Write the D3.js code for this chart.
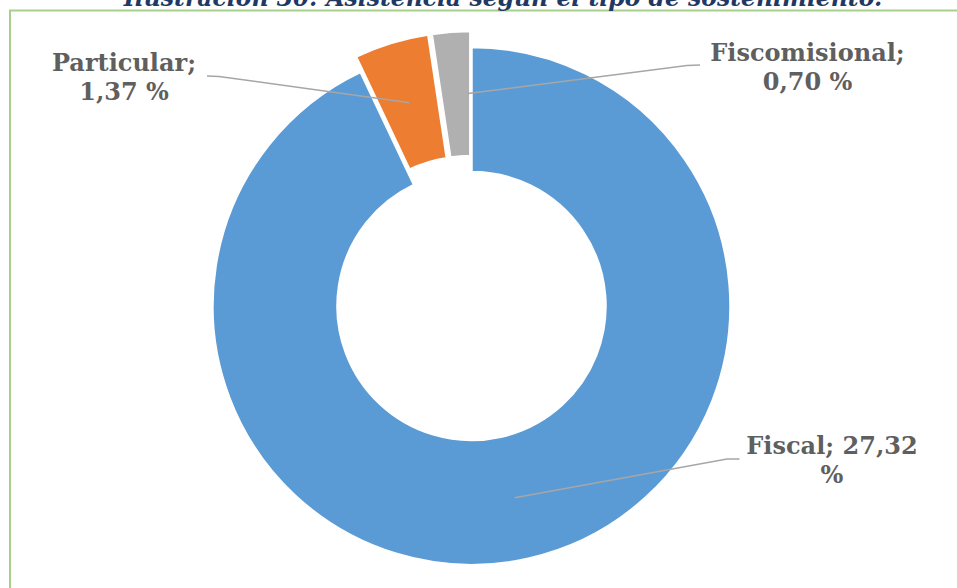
<!DOCTYPE html>
<html>
<head>
<meta charset="utf-8">
<script src="https://cdn.jsdelivr.net/npm/d3@7"></script>
<style>
  html, body { margin: 0; padding: 0; background: #fff; overflow: hidden; }
  svg { display: block; }
</style>
</head>
<body>
<svg id="chart" width="957" height="588"></svg>
<script>
// ---- data ----
const categories = ["Fiscal", "Particular", "Fiscomisional"];
const values = [27.32, 1.37, 0.70];
const valueLabels = ["27,32 %", "1,37 %", "0,70 %"];
const title = "Ilustración 30: Asistencia según el tipo de sostenimiento.";

// ---- layout / style ----
const W = 957, H = 588;
const cx = 471.5, cy = 306;
const outerR = 259, innerR = 134;
const colors = ["#5B9BD5", "#ED7D31", "#B0B0B1"];
const explode = [0, 16, 16];
const labelFont = "'DejaVu Serif', Georgia, serif";

const svg = d3.select("#chart");

// chart frame (green border)
svg.append("rect")
  .attr("x", 10).attr("y", 10.5)
  .attr("width", 1000).attr("height", 700)
  .attr("fill", "none")
  .attr("stroke", "#A8D08D")
  .attr("stroke-width", 2);

// title (clipped at top as in reference)
svg.append("text")
  .attr("x", 503).attr("y", 5.5)
  .attr("text-anchor", "middle")
  .attr("font-family", labelFont)
  .attr("font-weight", "bold")
  .attr("font-style", "italic")
  .attr("font-size", 23.5)
  .attr("fill", "#1F3864")
  .text(title);

const pie = d3.pie().sort(null).value(d => d)(values);
const arc = d3.arc().innerRadius(innerR).outerRadius(outerR);

const g = svg.append("g").attr("transform", `translate(${cx},${cy})`);

function offset(i) {
  const a = (pie[i].startAngle + pie[i].endAngle) / 2;
  return [Math.sin(a) * explode[i], -Math.cos(a) * explode[i]];
}

g.selectAll("path.slice")
  .data(pie)
  .enter().append("path")
  .attr("class", "slice")
  .attr("transform", (d, i) => { const o = offset(i); return `translate(${o[0]},${o[1]})`; })
  .attr("d", arc)
  .attr("fill", (d, i) => colors[i])
  .attr("stroke", "#fff")
  .attr("stroke-width", 2.5);

// label positions
const labels = [
  { lines: [categories[0] + "; 27,32", "%"], x: 832, y: 453.5, start: [739.5, 459], knee: [727, 459], anchorAngle: "mid" },
  { lines: [categories[1] + ";", valueLabels[1]], x: 124, y: 70.5, start: [207, 76], knee: [219, 76.5], anchorAngle: "mid" },
  { lines: [categories[2] + ";", valueLabels[2]], x: 807.5, y: 60.5, start: [700, 65], knee: [687, 65.5], anchorAngle: "end" }
];

labels.forEach((L, i) => {
  const p = pie[i];
  const a = L.anchorAngle === "end" ? p.endAngle - 0.012 : (p.startAngle + p.endAngle) / 2;
  const rr = (innerR + outerR) / 2;
  const o = offset(i);
  const tx = cx + Math.sin(a) * rr + o[0];
  const ty = cy - Math.cos(a) * rr + o[1];
  svg.append("path")
    .attr("d", d3.line()([L.start, L.knee, [tx, ty]]))
    .attr("fill", "none")
    .attr("stroke", "#A6A6A6")
    .attr("stroke-width", 1.5);
  const t = svg.append("text")
    .attr("x", L.x).attr("y", L.y)
    .attr("text-anchor", "middle")
    .attr("font-family", labelFont)
    .attr("font-weight", "bold")
    .attr("font-size", 24)
    .attr("fill", "#5F5F5F");
  L.lines.forEach((ln, k) => {
    t.append("tspan").attr("x", L.x).attr("y", L.y + k * 29.5).text(ln);
  });
});
</script>
</body>
</html>
